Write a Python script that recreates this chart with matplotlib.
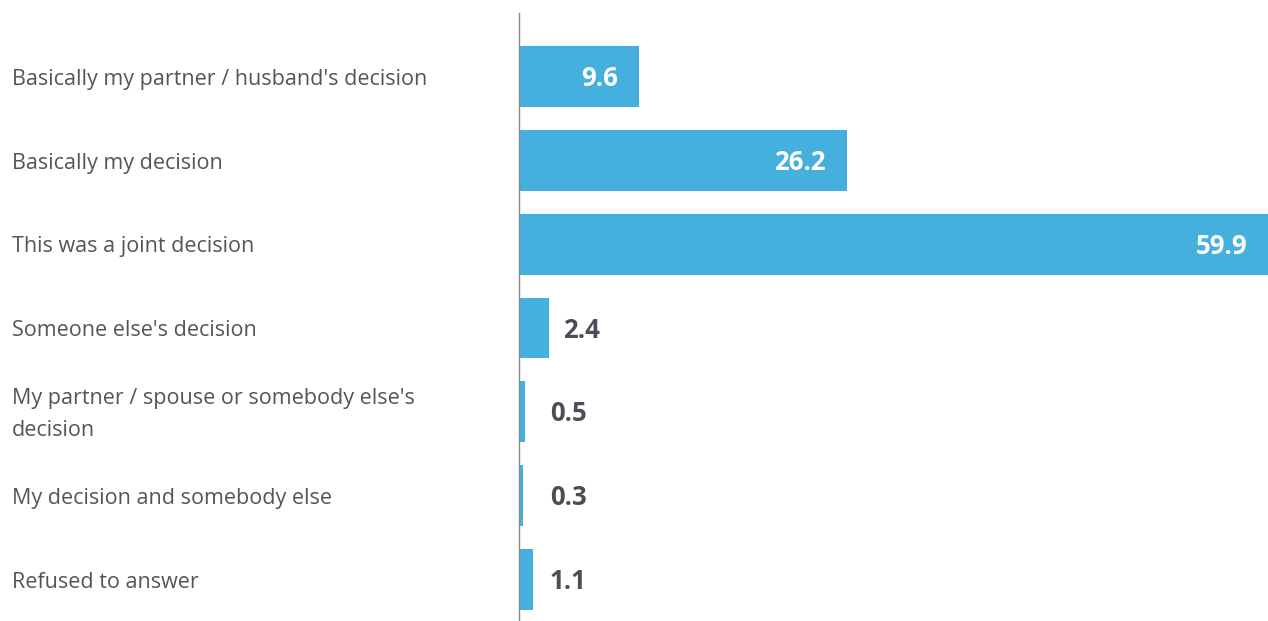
import matplotlib
matplotlib.use("Agg")
import matplotlib.pyplot as plt

categories = [
    "Basically my partner / husband's decision",
    "Basically my decision",
    "This was a joint decision",
    "Someone else's decision",
    "My partner / spouse or somebody else's\ndecision",
    "My decision and somebody else",
    "Refused to answer",
]
values = [9.6, 26.2, 59.9, 2.4, 0.5, 0.3, 1.1]

barColor = "#45b0de"
labelColor = "#555555"
valueDark = "#4a4f57"
fontName = "Open Sans"

fig = plt.figure(figsize=(12.68, 6.21), dpi=100)
ax = fig.add_axes([519 / 1268, 0, 749 / 1268, 608 / 621])

pos = list(range(len(values)))
ax.barh(pos, values, height=0.726, color=barColor)
ax.set_xlim(0, max(values))
ax.set_ylim(6.494, -0.756)

for i, v in enumerate(values):
    if v > 5:
        # big bars get the number inside, white
        ax.annotate(f"{v}", xy=(v, i), xytext=(-15, -1.5), textcoords="offset points",
                    ha="right", va="center", color="white", fontsize=18.5,
                    fontweight="bold", family=fontName)
    else:
        ax.annotate(f"{v}", xy=(max(v, 1.35), i), xytext=(10, -1.5), textcoords="offset points",
                    ha="left", va="center", color=valueDark, fontsize=18.5,
                    fontweight="bold", family=fontName)
    ax.annotate(categories[i], xy=(-507 / 12.5, i), xytext=(0, -2), textcoords="offset points",
                ha="left", va="center", color=labelColor, fontsize=15.5,
                family=fontName, linespacing=1.65, annotation_clip=False)

ax.set_xticks([])
ax.set_yticks([])
for s in ["top", "right", "bottom"]:
    ax.spines[s].set_visible(False)
ax.spines["left"].set_color("#888888")
ax.spines["left"].set_linewidth(1)

fig.savefig("out.png", dpi=100)
